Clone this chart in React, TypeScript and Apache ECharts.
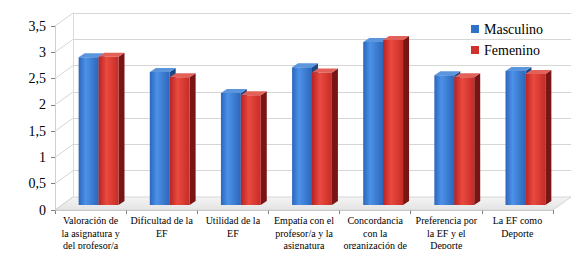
import React, { useEffect, useRef } from "react";
import * as echarts from "echarts";

const categories = [
  "Valoración de\nla asignatura y\ndel profesor/a\nde EF",
  "Dificultad de la\nEF",
  "Utilidad de la\nEF",
  "Empatía con el\nprofesor/a y la\nasignatura",
  "Concordancia\ncon la\norganización de\nla asignatura",
  "Preferencia por\nla EF y el\nDeporte",
  "La EF como\nDeporte",
];
const masculino = [2.81, 2.53, 2.13, 2.62, 3.1, 2.47, 2.55];
const femenino = [2.82, 2.43, 2.09, 2.52, 3.14, 2.43, 2.49];
const yTicks = [0, 0.5, 1, 1.5, 2, 2.5, 3, 3.5];

const FONT = "Liberation Serif";
const DX = 18; // depth offset of back wall
const DY = -13;

function makeRender(which: "m" | "f") {
  const front =
    which === "m"
      ? new echarts.graphic.LinearGradient(0, 0, 1, 0, [
          { offset: 0, color: "#2b66bb" },
          { offset: 0.35, color: "#4c92e8" },
          { offset: 1, color: "#2c66ba" },
        ])
      : new echarts.graphic.LinearGradient(0, 0, 1, 0, [
          { offset: 0, color: "#b82323" },
          { offset: 0.4, color: "#ea4a3f" },
          { offset: 1, color: "#c42c26" },
        ]);
  const top = which === "m" ? "#5b96dc" : "#e2625a";
  const side = which === "m" ? "#1c4888" : "#7a1515";
  return (params: any, api: any) => {
    const idx = api.value(0);
    const val = api.value(1);
    const pTop = api.coord([idx, val]);
    const pBase = api.coord([idx, 0]);
    const catW = api.size([1, 0])[0];
    const w = catW * 0.28;
    const ox = 8;
    const oy = -5;
    const x0 = which === "m" ? pTop[0] - w + ox : pTop[0] + ox;
    const yt = pTop[1] + oy;
    const yb = pBase[1] + oy;
    const px = 6;
    const py = -4;
    return {
      type: "group",
      children: [
        {
          type: "polygon",
          shape: {
            points: [
              [x0 + w, yt],
              [x0 + w + px, yt + py],
              [x0 + w + px, yb + py],
              [x0 + w, yb],
            ],
          },
          style: { fill: side },
        },
        {
          type: "polygon",
          shape: {
            points: [
              [x0, yt],
              [x0 + w, yt],
              [x0 + w + px, yt + py],
              [x0 + px, yt + py],
            ],
          },
          style: { fill: top },
        },
        {
          type: "rect",
          shape: { x: x0, y: yt, width: w, height: yb - yt },
          style: { fill: front },
        },
      ],
    };
  };
}

export default function App() {
  const ref = useRef<HTMLDivElement>(null);
  useEffect(() => {
    if (!ref.current) return;
    const chart = echarts.init(ref.current, null, { renderer: "svg" });
    const option: any = {
      animation: false,
      backgroundColor: "#fff",
      textStyle: { fontFamily: FONT },
      legend: {
        orient: "vertical",
        left: 466,
        top: 17,
        itemWidth: 8,
        itemHeight: 8,
        itemGap: 7,
        textStyle: { fontFamily: FONT, fontSize: 14, color: "#000", lineHeight: 14 },
        data: [
          { name: "Masculino", icon: "rect" },
          { name: "Femenino", icon: "rect" },
        ],
      },
      grid: [
        { left: 55, right: 29, top: 26, bottom: 47, outerBoundsMode: "none", containLabel: false },
        {
          left: 55 + DX,
          right: 29 - DX,
          top: 26 + DY,
          bottom: 47 - DY,
          outerBoundsMode: "none",
          containLabel: false,
        },
      ],
      xAxis: [
        {
          type: "category",
          gridIndex: 0,
          data: categories,
          axisLine: { lineStyle: { color: "#bdbdbd" } },
          axisTick: { show: true, length: 4, lineStyle: { color: "#7f7f7f" } },
          axisLabel: {
            interval: 0,
            margin: 4,
            fontFamily: FONT,
            fontSize: 10,
            lineHeight: 12.7,
            color: "#000",
          },
          splitLine: { show: false },
        },
        {
          type: "category",
          gridIndex: 1,
          data: categories,
          show: false,
        },
      ],
      yAxis: [
        {
          type: "value",
          gridIndex: 0,
          min: 0,
          max: 3.5,
          interval: 0.5,
          axisLine: { show: true, lineStyle: { color: "#d0d0d0" } },
          axisTick: { show: true, length: 4, lineStyle: { color: "#7f7f7f" } },
          axisLabel: {
            margin: 9,
            fontFamily: FONT,
            fontSize: 14,
            color: "#000",
            formatter: (v: number) => String(v).replace(".", ","),
          },
          splitLine: { show: false },
        },
        {
          type: "value",
          gridIndex: 1,
          min: 0,
          max: 3.5,
          interval: 0.5,
          axisLine: { show: true, lineStyle: { color: "#dcdcdc" } },
          axisTick: { show: false },
          axisLabel: { show: false },
          splitLine: { show: true, lineStyle: { color: "#d6d6d6" } },
        },
      ],
      series: [
        {
          name: "walls",
          type: "custom",
          xAxisIndex: 0,
          yAxisIndex: 0,
          silent: true,
          z: 1,
          data: yTicks.map((t) => [0, t]),
          renderItem: (params: any, api: any) => {
            const v = api.value(1);
            const p0 = api.coord([0, v]);
            const catW = api.size([1, 0])[0];
            const xl = p0[0] - catW / 2;
            const children: any[] = [
              {
                type: "line",
                shape: { x1: xl, y1: p0[1], x2: xl + DX, y2: p0[1] + DY },
                style: { stroke: "#d6d6d6", lineWidth: 1 },
              },
            ];
            if (v === 0) {
              const pr = api.coord([categories.length - 1, 0]);
              const xr = pr[0] + catW / 2;
              children.unshift({
                type: "polygon",
                shape: {
                  points: [
                    [xl, p0[1]],
                    [xr, p0[1]],
                    [xr + DX, p0[1] + DY],
                    [xl + DX, p0[1] + DY],
                  ],
                },
                style: {
                  fill: new echarts.graphic.LinearGradient(0, 0, 0, 1, [
                    { offset: 0, color: "#f4f4f4" },
                    { offset: 1, color: "#e4e4e4" },
                  ]),
                  stroke: "#d6d6d6",
                  lineWidth: 1,
                },
              });
            }
            return { type: "group", children };
          },
        },
        {
          name: "Masculino",
          type: "custom",
          xAxisIndex: 0,
          yAxisIndex: 0,
          z: 3,
          itemStyle: { color: "#3072c8" },
          data: masculino.map((v, i) => [i, v]),
          renderItem: makeRender("m"),
        },
        {
          name: "Femenino",
          type: "custom",
          xAxisIndex: 0,
          yAxisIndex: 0,
          z: 4,
          itemStyle: { color: "#d2302b" },
          data: femenino.map((v, i) => [i, v]),
          renderItem: makeRender("f"),
        },
      ],
    };
    chart.setOption(option);
    return () => chart.dispose();
  }, []);
  return <div ref={ref} style={{ width: 582, height: 257, margin: -8 }} />;
}
